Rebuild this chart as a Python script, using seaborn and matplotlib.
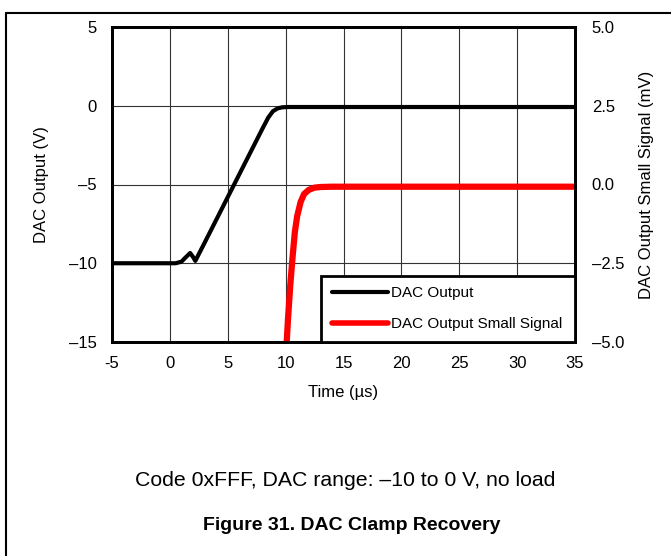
import matplotlib
matplotlib.use("Agg")
import matplotlib.pyplot as plt
from matplotlib.lines import Line2D
import seaborn as sns
import pandas as pd

# ---- data ----
time_black = [-5, 0.5, 1.0, 1.4, 1.75, 2.0, 2.2, 3, 4, 5, 6, 7, 8, 8.5, 8.9, 9.3, 9.7,
              10.2, 11, 15, 20, 25, 30, 35]
dac_output = [-10, -10, -9.9, -9.6, -9.35, -9.6, -9.85, -8.7, -7.25, -5.8, -4.35, -2.9,
              -1.45, -0.75, -0.35, -0.17, -0.1, -0.08, -0.08, -0.08, -0.08, -0.08, -0.08, -0.08]

time_red = [10.0, 10.2, 10.4, 10.6, 10.8, 11.0, 11.3, 11.6, 12.0, 12.5, 13.0, 14, 20, 25, 30, 35]
dac_small = [-5.6, -4.3, -3.2, -2.3, -1.5, -1.0, -0.55, -0.3, -0.17, -0.1, -0.08, -0.07,
             -0.07, -0.07, -0.07, -0.07]

x_ticks = [-5, 0, 5, 10, 15, 20, 25, 30, 35]
x_ticklabels = ["-5", "0", "5", "10", "15", "20", "25", "30", "35"]
yl_ticks = [-15, -10, -5, 0, 5]
yl_ticklabels = ["\u201315", "\u201310", "\u20135", "0", "5"]
yr_ticks = [-5, -2.5, 0, 2.5, 5]
yr_ticklabels = ["\u20135.0", "\u20132.5", "0.0", "2.5", "5.0"]

df_black = pd.DataFrame({"t": time_black, "v": dac_output})
df_red = pd.DataFrame({"t": time_red, "v": dac_small})

sns.set_style("white")
plt.rcParams["font.family"] = ["Liberation Sans", "DejaVu Sans"]
plt.rcParams["text.color"] = "black"
plt.rcParams["axes.labelcolor"] = "black"
plt.rcParams["xtick.color"] = "black"
plt.rcParams["ytick.color"] = "black"

fig = plt.figure(figsize=(6.71, 5.56), dpi=100)
ax = fig.add_axes([112 / 671, 1 - 342 / 556, (575 - 112) / 671, (342 - 27) / 556])
ax2 = ax.twinx()

sns.lineplot(data=df_black, x="t", y="v", ax=ax, sort=False, estimator=None,
             color="black", linewidth=3, legend=False)
sns.lineplot(data=df_red, x="t", y="v", ax=ax2, sort=False, estimator=None,
             color="#ff0000", linewidth=4.5, legend=False)

ax.set_xlim(-5, 35)
ax.set_ylim(-15, 5)
ax2.set_ylim(-5, 5)
ax.set_xticks(x_ticks)
ax.set_xticklabels(x_ticklabels)
ax.set_yticks(yl_ticks)
ax.set_yticklabels(yl_ticklabels)
ax2.set_yticks(yr_ticks)
ax2.set_yticklabels(yr_ticklabels)

ax.grid(True, color="#333333", linewidth=0.8)
ax.set_axisbelow(True)
ax.tick_params(axis="both", length=0, labelsize=12, colors="black")
ax.tick_params(axis="x", pad=10)
ax.tick_params(axis="y", pad=11)
ax2.tick_params(axis="y", length=0, labelsize=12, colors="black", pad=12)

for a in (ax, ax2):
    for s in a.spines.values():
        s.set_linewidth(2)
        s.set_color("black")

ax.set_xlabel("Time (\u00b5s)", fontsize=12, labelpad=10)
ax.set_ylabel("DAC Output (V)", fontsize=12, labelpad=14)
ax2.set_ylabel("DAC Output Small Signal (mV)", fontsize=12, labelpad=11)

handles = [Line2D([], [], color="black", linewidth=3),
           Line2D([], [], color="#ff0000", linewidth=4)]
leg = ax2.legend(handles, ["DAC Output", "DAC Output Small Signal"],
                 loc="lower left", bbox_to_anchor=(0.451, 0.0, 0.549, 0.2),
                 mode="expand", borderaxespad=0, fancybox=False, framealpha=1,
                 fontsize=11, handlelength=3.7, handletextpad=0.2,
                 labelspacing=1.1, borderpad=0.7)
leg.get_frame().set_edgecolor("black")
leg.get_frame().set_linewidth(2)

# outer frame lines
fig.add_artist(Line2D([6 / 671, 6 / 671], [0, 1 - 12.5 / 556], color="black",
                      linewidth=1.5, transform=fig.transFigure))
fig.add_artist(Line2D([6 / 671, 1], [1 - 12.5 / 556, 1 - 12.5 / 556], color="black",
                      linewidth=1.5, transform=fig.transFigure))

fig.text(345 / 671, 1 - 481 / 556, "Code 0xFFF, DAC range: \u201310 to 0 V, no load",
         ha="center", va="center", fontsize=15.3)
fig.text(352 / 671, 1 - 525 / 556, "Figure 31. DAC Clamp Recovery",
         ha="center", va="center", fontsize=14, fontweight="bold")

fig.savefig("out.png", dpi=100)
